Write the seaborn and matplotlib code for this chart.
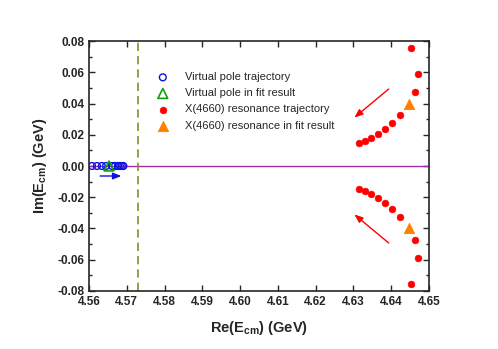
import seaborn as sns
import pandas as pd
import numpy as np
from matplotlib import pyplot as plt
from matplotlib.ticker import MultipleLocator

sns.set_style('ticks')
plt.rcParams['font.family'] = ['Liberation Sans', 'DejaVu Sans']

# virtual pole trajectory (on the real axis)
vp_re = [4.5608, 4.5621, 4.5634, 4.5645, 4.5661, 4.5669, 4.5677, 4.5682, 4.5687, 4.5691]
vp_im = [0.0] * len(vp_re)
vp_fit = (4.5653, 0.0)

# X(4660) resonance trajectory, upper half plane (lower one is its mirror)
x_re = [4.6315, 4.6331, 4.6347, 4.6364, 4.6383, 4.6403, 4.6423, 4.6463, 4.6471, 4.6452]
x_im = [0.0149, 0.0162, 0.0181, 0.0207, 0.0237, 0.0278, 0.0327, 0.0472, 0.0588, 0.0756]
x_fit = (4.6447, 0.0397)

threshold = 4.573

df_vp = pd.DataFrame({'re': vp_re, 'im': vp_im})
df_x = pd.DataFrame({'re': x_re + x_re, 'im': x_im + [-v for v in x_im]})
df_xfit = pd.DataFrame({'re': [x_fit[0], x_fit[0]], 'im': [x_fit[1], -x_fit[1]]})
df_vpfit = pd.DataFrame({'re': [vp_fit[0]], 'im': [vp_fit[1]]})

fig = plt.figure(figsize=(4.98, 3.49), dpi=100)
ax = fig.add_axes([0.1787, 0.1662, 0.6827, 0.7163])

ax.axhline(0, color='#a030a8', lw=1, zorder=1)
ax.axvline(threshold, color='#8c8c28', lw=1.2, ls=(0, (5, 3)), zorder=1)

sns.scatterplot(data=df_vp, x='re', y='im', ax=ax, marker='o', s=24,
                facecolor='none', edgecolor='#1010e0', linewidth=1,
                label='Virtual pole trajectory', zorder=3)
sns.scatterplot(data=df_vpfit, x='re', y='im', ax=ax, marker='^', s=50,
                facecolor='none', edgecolor='#10a010', linewidth=1.2,
                label='Virtual pole in fit result', zorder=4)
sns.scatterplot(data=df_x, x='re', y='im', ax=ax, marker='o', s=24,
                color='#ff0000', edgecolor='#ff0000',
                label='X(4660) resonance trajectory', zorder=3)
sns.scatterplot(data=df_xfit, x='re', y='im', ax=ax, marker='^', s=55,
                color='#ff8000', edgecolor='#ff8000',
                label='X(4660) resonance in fit result', zorder=4)

# arrows showing direction of the trajectories
arr = dict(arrowstyle='-|>,head_length=0.5,head_width=0.2', color='#ff0000', lw=1)
ax.annotate('', xy=(4.6297, 0.0299), xytext=(4.6399, 0.0504), arrowprops=arr)
ax.annotate('', xy=(4.6297, -0.0299), xytext=(4.6399, -0.0504), arrowprops=arr)
arr_b = dict(arrowstyle='-|>,head_length=0.5,head_width=0.2', color='#1010e0', lw=1)
ax.annotate('', xy=(4.5693, -0.0064), xytext=(4.5622, -0.0064), arrowprops=arr_b)

ax.set_xlim(4.56, 4.65)
ax.set_ylim(-0.08, 0.08)
ax.xaxis.set_major_locator(MultipleLocator(0.01))
ax.yaxis.set_major_locator(MultipleLocator(0.02))
ax.yaxis.set_minor_locator(MultipleLocator(0.01))
ax.xaxis.set_major_formatter(plt.FormatStrFormatter('%.2f'))
ax.yaxis.set_major_formatter(plt.FormatStrFormatter('%.2f'))
ax.tick_params(which='both', direction='in', top=True, right=True, width=1)
ax.tick_params(which='major', length=4, labelsize=8.5)
ax.tick_params(which='minor', length=2.5)
for lab in ax.get_xticklabels() + ax.get_yticklabels():
    lab.set_fontweight('bold')
for sp in ax.spines.values():
    sp.set_linewidth(1.2)

ax.set_xlabel('Re(E$_{\\mathregular{cm}}$) (GeV)', fontsize=10.5, fontweight='bold', labelpad=8)
ax.set_ylabel('Im(E$_{\\mathregular{cm}}$) (GeV)', fontsize=10.5, fontweight='bold', labelpad=6)

ax.legend(loc='upper left', bbox_to_anchor=(0.155, 0.915), frameon=False,
          fontsize=8, handletextpad=1.0, labelspacing=0.55)

fig.savefig('out.png', dpi=100)
